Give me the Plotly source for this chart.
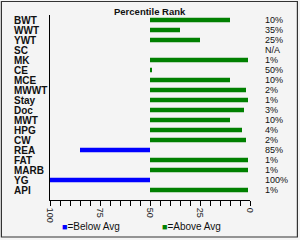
import plotly.graph_objects as go

traits = ["BWT", "WWT", "YWT", "SC", "MK", "CE", "MCE", "MWWT", "Stay", "Doc",
          "MWT", "HPG", "CW", "REA", "FAT", "MARB", "YG", "API"]
rank_labels = ["10%", "35%", "25%", "N/A", "1%", "50%", "10%", "2%", "1%", "3%",
               "10%", "4%", "2%", "85%", "1%", "1%", "100%", "1%"]
# percentile rank drawn by each bar (None = no value)
bar_pct = [10, 35, 25, None, 1, 49, 10, 2, 1, 3, 10, 4, 2, 85, 1, 1, 100, 1]
avg = 50
x_ticks = [0, 25, 50, 75, 100]

idx = list(range(len(traits)))
below_y, below_x, above_y, above_x = [], [], [], []
for i, v in zip(idx, bar_pct):
    if v is None:
        continue
    if v > avg:
        below_y.append(i); below_x.append(v - avg)
    else:
        above_y.append(i); above_x.append(v - avg)

BLUE = "#0000ff"
GREEN = "#008000"
FONT = "Liberation Sans"

fig = go.Figure()
fig.add_trace(go.Bar(y=below_y, x=below_x, base=avg, orientation="h",
                     marker=dict(color=BLUE, line=dict(width=0)), width=0.45,
                     showlegend=False))
fig.add_trace(go.Bar(y=above_y, x=above_x, base=avg, orientation="h",
                     marker=dict(color=GREEN, line=dict(width=0)), width=0.45,
                     showlegend=False))

ann = []
for i, (t, lab) in enumerate(zip(traits, rank_labels)):
    ann.append(dict(x=-0.19, xref="paper", y=i, yref="y", text="<b>%s</b>" % t,
                    xanchor="left", yanchor="middle", showarrow=False,
                    font=dict(family=FONT, size=10, color="#111")))
    ann.append(dict(x=1.065, xref="paper", y=i, yref="y", text=lab,
                    xanchor="left", yanchor="middle", showarrow=False,
                    font=dict(family=FONT, size=9, color="#111")))
ann.append(dict(x=0.5, xref="paper", y=1.018, yref="paper", yanchor="middle",
                text="<b>Percentile Rank</b>", showarrow=False,
                font=dict(family=FONT, size=9.5, color="#111")))
ann.append(dict(x=0.05, xref="paper", y=-0.145, yref="paper", xanchor="left",
                yanchor="middle", showarrow=False,
                text='<span style="color:%s;font-size:9px">■</span>=Below Avg' % BLUE,
                font=dict(family=FONT, size=10, color="#111")))
ann.append(dict(x=0.55, xref="paper", y=-0.145, yref="paper", xanchor="left",
                yanchor="middle", showarrow=False,
                text='<span style="color:%s;font-size:9px">■</span>=Above Avg' % GREEN,
                font=dict(family=FONT, size=10, color="#111")))

fig.update_layout(
    width=300, height=240,
    margin=dict(l=50, r=50, t=15, b=40),
    paper_bgcolor="#f4f4f4", plot_bgcolor="#f4f4f4",
    barmode="overlay",
    showlegend=False,
    annotations=ann,
    shapes=[dict(type="rect", xref="paper", yref="paper",
                 x0=-0.243, x1=1.237, y0=-0.2, y1=1.073,
                 line=dict(color="#333", width=1.2))],
    xaxis=dict(range=[100, 0], tickvals=x_ticks, ticks="outside", ticklen=5,
               tickcolor="black", showline=True, linecolor="black",
               showgrid=False, zeroline=False, tickangle=90,
               tickfont=dict(family=FONT, size=9, color="#222"),
               minor=dict(dtick=5, ticks="outside", ticklen=5, tickcolor="black")),
    yaxis=dict(range=[18, -0.5], showticklabels=False, showline=True,
               linecolor="black", showgrid=False, zeroline=False, ticks=""),
)

fig.write_html("out.html")
